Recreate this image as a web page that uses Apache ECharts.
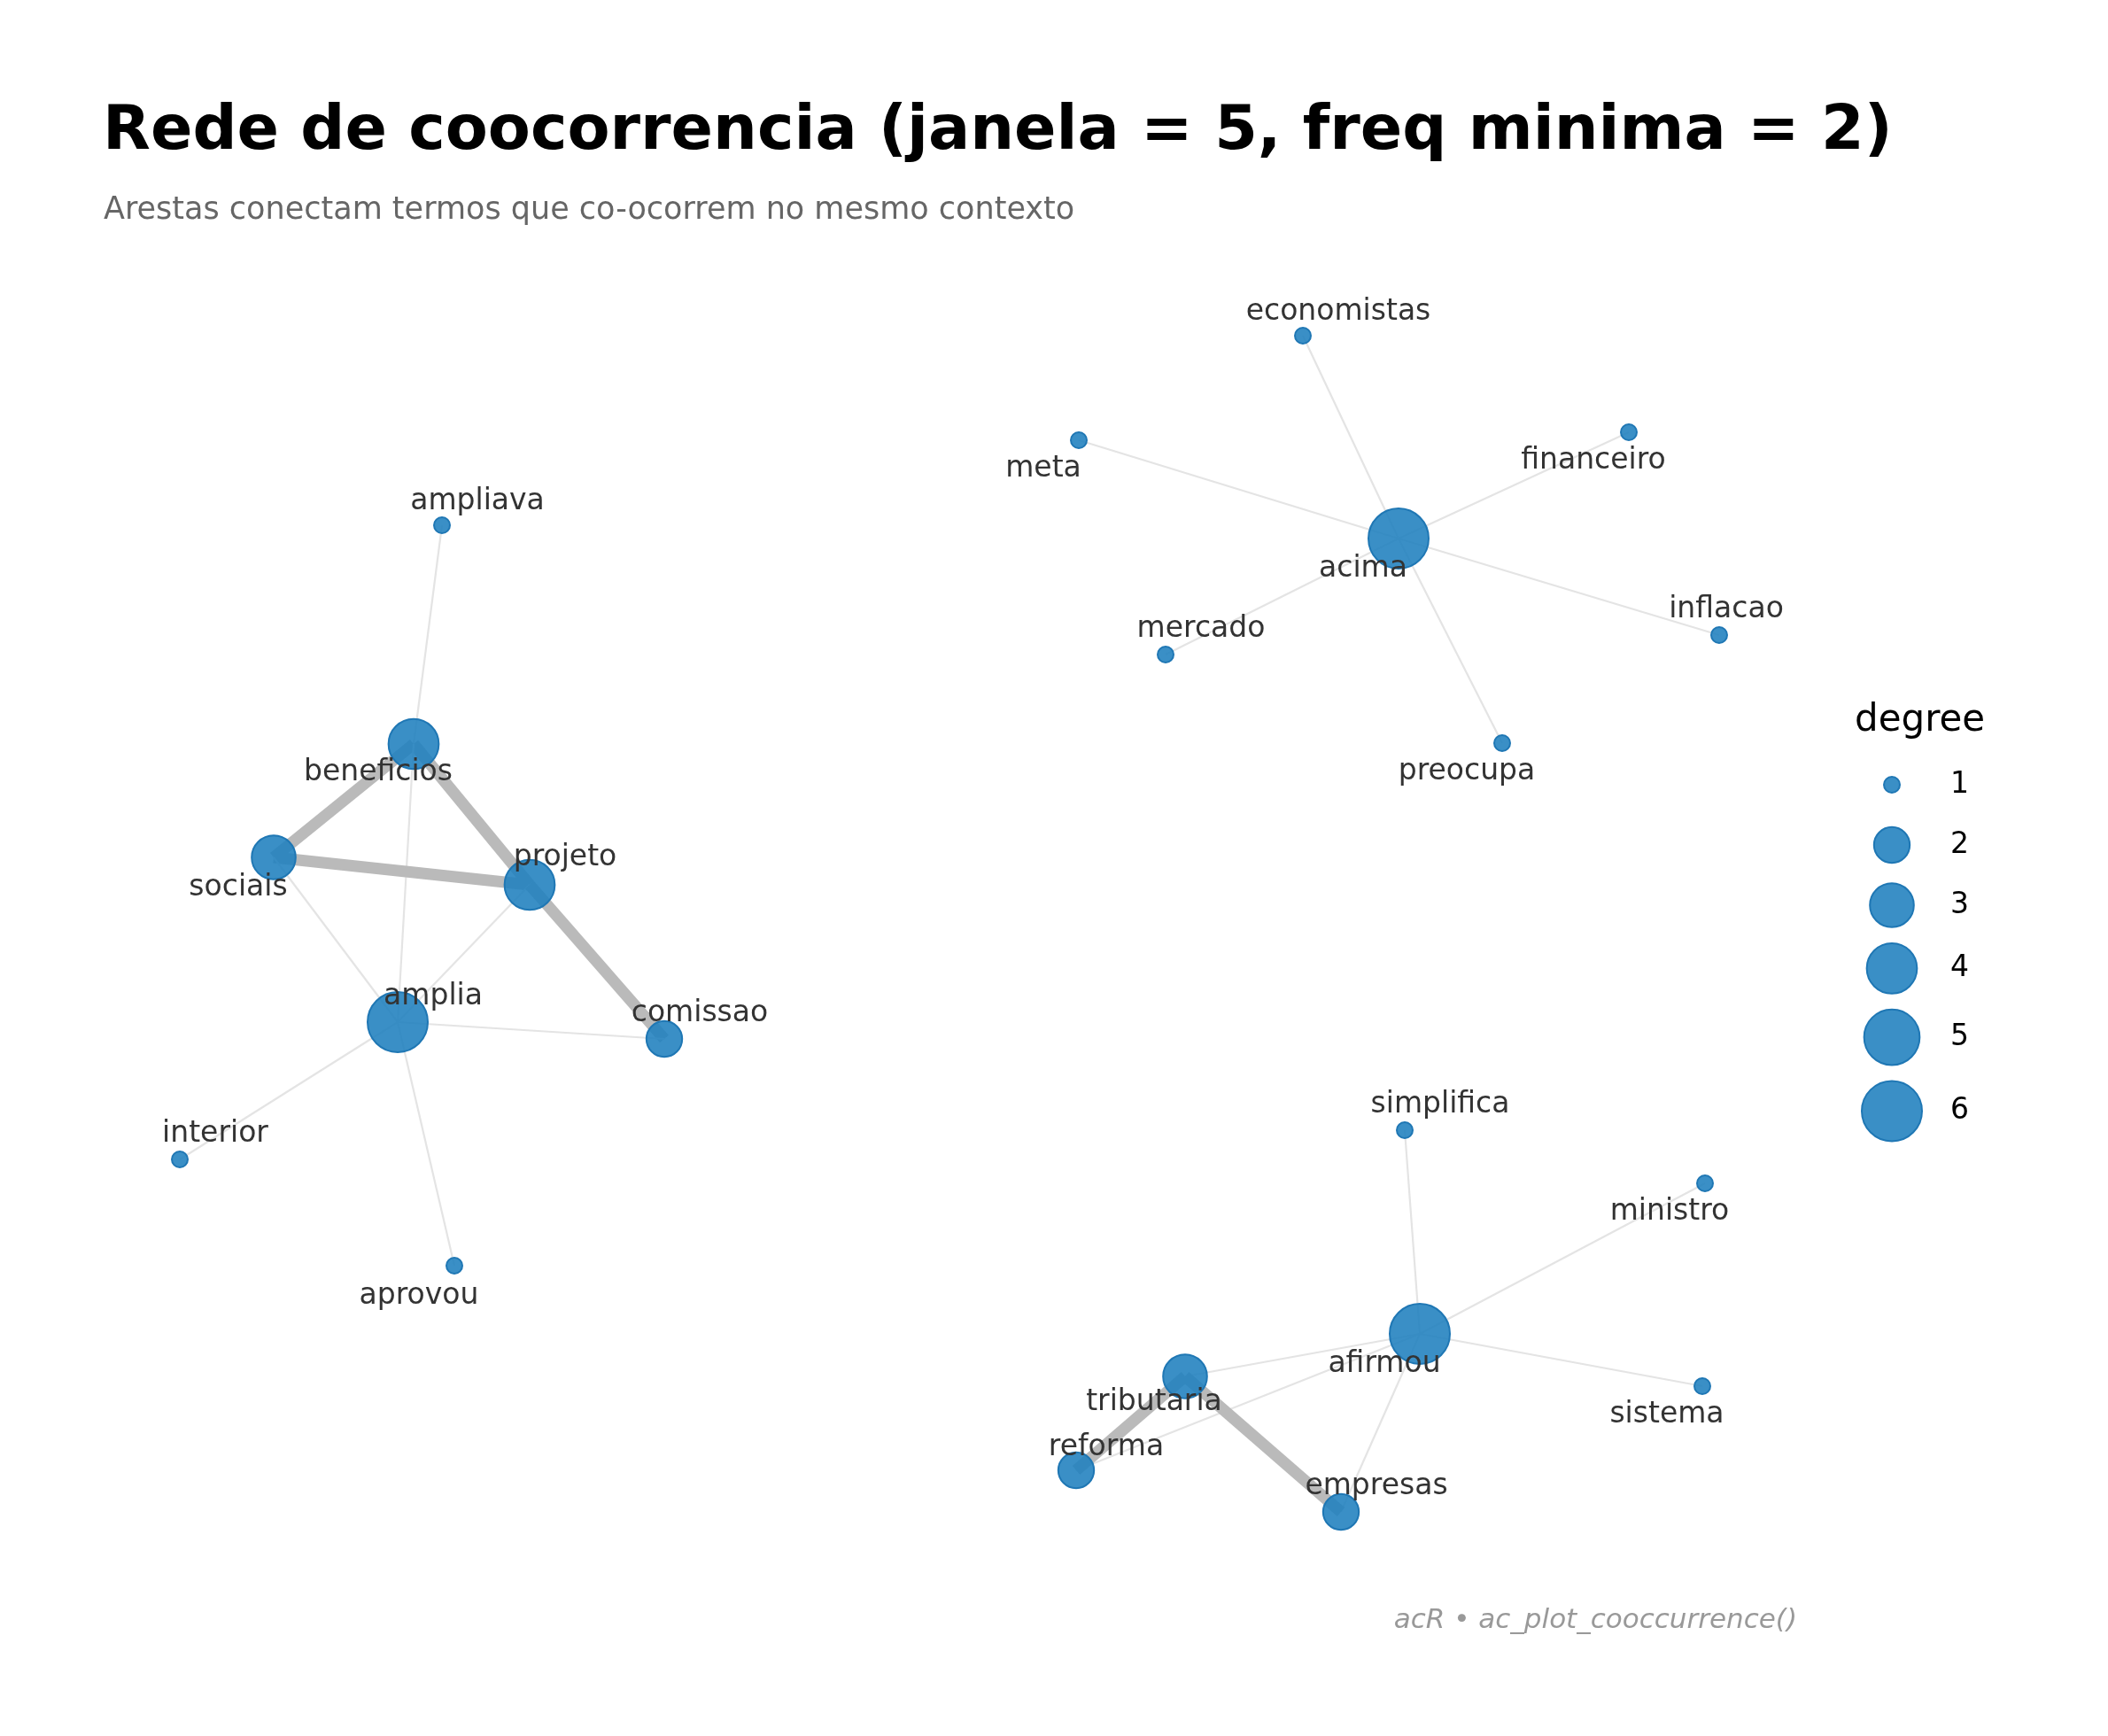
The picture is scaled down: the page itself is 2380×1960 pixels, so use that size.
<!DOCTYPE html>
<html>
<head>
<meta charset="utf-8">
<script src="https://cdn.jsdelivr.net/npm/echarts@6/dist/echarts.min.js"></script>
<style>
  html, body { margin: 0; padding: 0; background: #fff; }
  #chart { width: 2380px; height: 1960px; }
</style>
</head>
<body>
<div id="chart"></div>
<script>
// termos e coordenadas do layout (unidades do layout, nao pixels)
var termos = ['ampliava', 'beneficios', 'sociais', 'projeto', 'amplia', 'comissao', 'interior', 'aprovou',
  'acima', 'economistas', 'meta', 'financeiro', 'mercado', 'inflacao', 'preocupa',
  'afirmou', 'simplifica', 'ministro', 'sistema', 'tributaria', 'reforma', 'empresas']
var layoutX = [-6.91, -7.23, -8.81, -5.92, -7.41, -4.40, -9.87, -6.77,
  3.89, 2.81, 0.28, 6.49, 1.26, 7.51, 5.06,
  4.13, 3.96, 7.35, 7.32, 1.48, 0.25, 3.24]
var layoutY = [3.87, 1.40, 0.12, -0.19, -1.74, -1.93, -3.29, -4.49,
  3.72, 6.01, 4.83, 4.92, 2.41, 2.63, 1.41,
  -5.26, -2.96, -3.56, -5.85, -5.74, -6.80, -7.27]

// arestas (coocorrencias)
var arestaDe = ['ampliava', 'beneficios', 'beneficios', 'beneficios', 'sociais', 'sociais', 'projeto', 'projeto', 'amplia', 'amplia', 'amplia',
  'acima', 'acima', 'acima', 'acima', 'acima', 'acima',
  'afirmou', 'afirmou', 'afirmou', 'afirmou', 'afirmou', 'afirmou', 'tributaria', 'tributaria']
var arestaPara = ['beneficios', 'sociais', 'projeto', 'amplia', 'projeto', 'amplia', 'amplia', 'comissao', 'comissao', 'interior', 'aprovou',
  'economistas', 'meta', 'financeiro', 'mercado', 'inflacao', 'preocupa',
  'simplifica', 'ministro', 'sistema', 'tributaria', 'reforma', 'empresas', 'reforma', 'empresas']
var arestaPeso = [1, 2, 2, 1, 2, 1, 1, 2, 1, 1, 1,
  1, 1, 1, 1, 1, 1,
  1, 1, 1, 1, 1, 1, 2, 2]

var grausLegenda = [1, 2, 3, 4, 5, 6]

// deslocamento dos rotulos (px), estilo tipo ggrepel
var labelNudge = {
  ampliava: [40, -27], beneficios: [-40, 32], sociais: [-40, 34], projeto: [40, -31],
  amplia: [40, -29], comissao: [40, -29], interior: [40, -29], aprovou: [-40, 34],
  economistas: [40, -27], meta: [-40, 32], financeiro: [-40, 32], acima: [-40, 34],
  mercado: [40, -29], inflacao: [8, -29], preocupa: [-40, 32],
  simplifica: [40, -29], ministro: [-40, 32], sistema: [-40, 32], afirmou: [-40, 34],
  tributaria: [-35, 29], reforma: [34, -26], empresas: [40, -29]
}

var FONT = 'DejaVu Sans'
var NODE_FILL = 'rgba(31,128,190,0.88)'
var NODE_LINE = '#1f77b4'

// escala de tamanho tipo scale_size (area)
function diametro (d) {
  var dMax = Math.max.apply(null, grausLegenda)
  return 20 + Math.sqrt((d - 1) / (dMax - 1)) * 50
}

// grau de cada termo
var grau = {}
termos.forEach(function (t) { grau[t] = 0 })
for (var i = 0; i < arestaDe.length; i++) {
  grau[arestaDe[i]]++
  grau[arestaPara[i]]++
}

var nodes = termos.map(function (t, i) {
  return {
    name: t,
    value: [layoutX[i], layoutY[i]],
    symbolSize: diametro(grau[t]) - 2,
    label: {offset: labelNudge[t]}
  }
})

var links = arestaDe.map(function (s, i) {
  var w = arestaPeso[i]
  return {
    source: s,
    target: arestaPara[i],
    lineStyle: {
      width: w > 1 ? 13 : 2.2,
      color: w > 1 ? '#bababa' : '#e4e4e4'
    }
  }
})

// legenda: altura de cada chave = max(minimo, diametro + folga)
var keyH = grausLegenda.map(function (d) { return Math.max(68, diametro(d) + 16) })
var keyTotal = keyH.reduce(function (a, b) { return a + b }, 0)
var acc = 0
var legendData = grausLegenda.map(function (d, i) {
  var y = acc + keyH[i] / 2
  acc += keyH[i]
  return {value: [0, y], symbolSize: diametro(d) - 2, name: String(d)}
})

var myChart = echarts.init(document.getElementById('chart'), null, {renderer: 'canvas'})

var option = {
  backgroundColor: '#ffffff',
  animation: false,
  textStyle: {fontFamily: FONT},
  grid: [
    {left: 0, top: 0, width: 2380, height: 1960},
    {left: 2086, top: 852, width: 100, height: keyTotal}
  ],
  xAxis: [
    {gridIndex: 0, type: 'value', min: -11.9, max: 11.9, show: false},
    {gridIndex: 1, type: 'value', min: -1, max: 1, show: false}
  ],
  yAxis: [
    {gridIndex: 0, type: 'value', min: -9.8, max: 9.8, show: false},
    {gridIndex: 1, type: 'value', min: 0, max: keyTotal, inverse: true, show: false}
  ],
  graphic: [
    {type: 'text', left: 116, top: 115, silent: true,
      style: {text: 'Rede de coocorrencia (janela = 5, freq minima = 2)', font: 'bold 70px "DejaVu Sans"', fill: '#000'}},
    {type: 'text', left: 117, top: 220, silent: true,
      style: {text: 'Arestas conectam termos que co-ocorrem no mesmo contexto', font: '35px "DejaVu Sans"', fill: '#666666'}},
    {type: 'text', right: 351, top: 1814, silent: true,
      style: {text: 'acR \u2022 ac_plot_cooccurrence()', font: 'italic 31px "DejaVu Sans"', fill: '#999999'}},
    {type: 'text', left: 2094, top: 793, silent: true,
      style: {text: 'degree', font: '42px "DejaVu Sans"', fill: '#000'}}
  ],
  series: [
    {
      type: 'graph',
      layout: 'none',
      coordinateSystem: 'cartesian2d',
      xAxisIndex: 0,
      yAxisIndex: 0,
      symbol: 'circle',
      data: nodes,
      links: links,
      edgeSymbol: ['none', 'none'],
      itemStyle: {color: NODE_FILL, borderColor: NODE_LINE, borderWidth: 2},
      lineStyle: {opacity: 1, curveness: 0},
      label: {
        show: true,
        position: 'inside',
        formatter: '{b}',
        color: '#333333',
        fontSize: 33,
        fontFamily: FONT
      },
      emphasis: {disabled: true}
    },
    {
      type: 'scatter',
      xAxisIndex: 1,
      yAxisIndex: 1,
      symbol: 'circle',
      data: legendData,
      itemStyle: {color: NODE_FILL, borderColor: NODE_LINE, borderWidth: 2, opacity: 1},
      label: {
        show: true,
        position: 'inside',
        align: 'left',
        offset: [66, 0],
        formatter: '{b}',
        color: '#000',
        fontSize: 33,
        fontFamily: FONT
      },
      emphasis: {disabled: true}
    }
  ]
}

myChart.setOption(option)
</script>
</body>
</html>
